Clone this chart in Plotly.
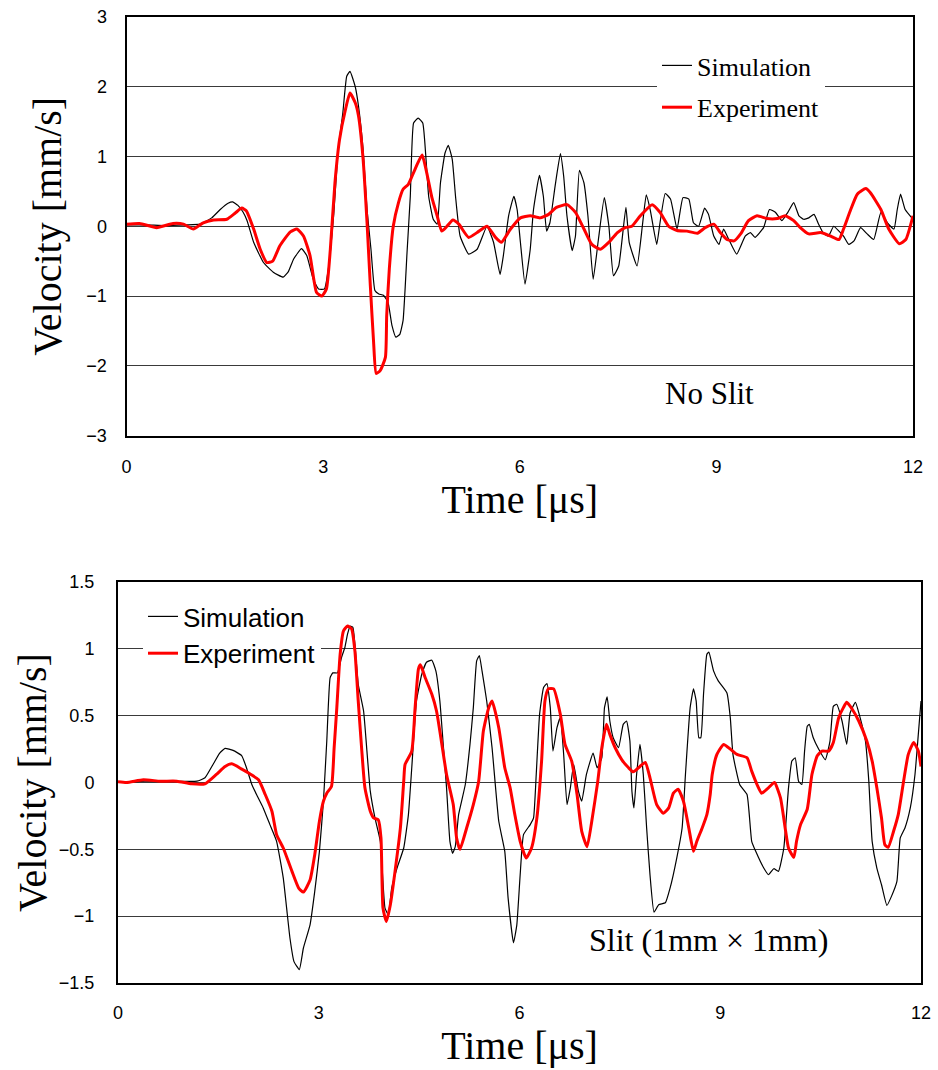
import plotly.graph_objects as go

# ---------------- Top panel: No Slit ----------------
top_sim_t = [0.0, 0.3, 0.6, 0.9, 1.12, 1.30, 1.43, 1.55, 1.62, 1.70, 1.78, 1.84, 1.94, 2.09, 2.24, 2.39, 2.47,
             2.55, 2.67, 2.75, 2.85, 2.93, 3.02, 3.08, 3.16, 3.23, 3.30, 3.36, 3.41, 3.49, 3.54, 3.61, 3.67,
             3.73, 3.79, 3.85, 3.92, 3.99, 4.05, 4.11, 4.17, 4.22, 4.28, 4.33, 4.38, 4.45, 4.52, 4.57, 4.61,
             4.68, 4.74, 4.79, 4.86, 4.91, 4.97, 5.02, 5.09, 5.22, 5.35, 5.5, 5.6, 5.70, 5.75, 5.83, 5.91,
             5.96, 6.01, 6.08, 6.16, 6.21, 6.30, 6.36, 6.41, 6.46, 6.54, 6.62, 6.67, 6.72, 6.80, 6.85, 6.91,
             6.98, 7.04, 7.12, 7.20, 7.29, 7.36, 7.43, 7.51, 7.62, 7.67, 7.79, 7.87, 7.93, 7.99, 8.09, 8.14,
             8.22, 8.30, 8.40, 8.49, 8.58, 8.65, 8.73, 8.82, 8.88, 8.96, 9.04, 9.11, 9.19, 9.31, 9.44, 9.52,
             9.59, 9.72, 9.81, 9.90, 10.0, 10.09, 10.18, 10.26, 10.33, 10.41, 10.49, 10.56, 10.64, 10.71,
             10.79, 10.87, 10.94, 11.02, 11.10, 11.20, 11.30, 11.40, 11.51, 11.61, 11.71, 11.76, 11.81,
             11.88, 12.0]
top_sim_v = [0.02, 0.02, 0.01, 0.02, 0.03, 0.12, 0.24, 0.33, 0.35, 0.30, 0.2, 0.08, -0.23, -0.52, -0.66, -0.73,
             -0.65, -0.47, -0.32, -0.42, -0.76, -0.9, -0.9, -0.61, 0.15, 1.1, 1.62, 2.15, 2.22, 2.0, 1.72, 1.1,
             0.24, -0.33, -0.92, -0.97, -0.99, -1.09, -1.42, -1.59, -1.55, -1.35, -0.38, 0.43, 1.48, 1.55,
             1.48, 0.96, 0.43, 0.1, 0.03, 0.62, 1.05, 1.16, 0.96, 0.43, -0.14, -0.4, -0.33, 0.0, -0.23, -0.69,
             -0.42, 0.15, 0.43, 0.24, -0.23, -0.83, -0.33, 0.24, 0.73, 0.43, -0.07, 0.05, 0.58, 1.04, 0.72,
             0.15, -0.35, -0.14, 0.8, 0.62, 0.15, -0.76, -0.19, 0.41, 0.0, -0.71, -0.57, 0.27, -0.23, -0.57,
             0.0, 0.45, 0.24, -0.26, 0.05, 0.47, 0.39, -0.04, 0.41, 0.39, 0.05, 0.0, 0.26, 0.17, -0.14, -0.26,
             -0.04, -0.19, -0.4, -0.14, -0.09, -0.16, -0.02, 0.24, 0.2, 0.08, 0.2, 0.34, 0.15, 0.1, 0.12,
             0.17, 0.03, -0.11, -0.14, 0.0, -0.07, -0.14, -0.26, -0.21, -0.02, -0.11, -0.19, 0.2, 0.05,
             -0.04, 0.24, 0.46, 0.24, 0.1]

top_exp_t = [0.0, 0.2, 0.46, 0.71, 0.87, 1.02, 1.17, 1.33, 1.53, 1.66, 1.76, 1.83, 1.94, 2.04, 2.14, 2.23, 2.34,
             2.5, 2.6, 2.7, 2.8, 2.9, 2.98, 3.05, 3.11, 3.18, 3.25, 3.34, 3.41, 3.49, 3.54, 3.61, 3.67, 3.72,
             3.77, 3.81, 3.87, 3.95, 3.97, 4.01, 4.07, 4.15, 4.22, 4.30, 4.38, 4.51, 4.58, 4.66, 4.74, 4.81,
             4.89, 4.98, 5.07, 5.22, 5.35, 5.5, 5.63, 5.72, 5.86, 6.01, 6.16, 6.31, 6.44, 6.56, 6.72, 6.85,
             6.98, 7.1, 7.23, 7.36, 7.49, 7.61, 7.71, 7.84, 8.02, 8.14, 8.27, 8.40, 8.55, 8.71, 8.83, 8.96,
             9.06, 9.16, 9.27, 9.37, 9.49, 9.62, 9.77, 9.93, 10.05, 10.18, 10.28, 10.41, 10.59, 10.74, 10.87,
             10.94, 11.05, 11.15, 11.28, 11.35, 11.51, 11.63, 11.79, 11.89, 12.0]
top_exp_v = [0.03, 0.04, -0.02, 0.04, 0.03, -0.04, 0.05, 0.09, 0.1, 0.19, 0.26, 0.22, -0.04, -0.33, -0.52, -0.5,
             -0.28, -0.08, -0.04, -0.14, -0.42, -0.95, -1.0, -0.9, -0.33, 0.62, 1.24, 1.67, 1.91, 1.77, 1.58,
             0.96, 0.05, -0.85, -1.66, -2.11, -2.07, -1.88, -1.28, -0.61, 0.0, 0.34, 0.53, 0.6, 0.77, 1.02,
             0.77, 0.41, 0.15, -0.07, 0.0, 0.09, 0.03, -0.16, -0.09, 0.0, -0.16, -0.23, -0.04, 0.12, 0.15,
             0.12, 0.17, 0.27, 0.31, 0.2, -0.04, -0.26, -0.33, -0.23, -0.09, -0.02, 0.0, 0.15, 0.31, 0.2, 0.0,
             -0.06, -0.07, -0.1, -0.02, 0.03, -0.09, -0.19, -0.21, -0.11, 0.08, 0.15, 0.11, 0.11, 0.15, 0.08,
             -0.02, -0.11, -0.09, -0.14, -0.19, -0.04, 0.24, 0.46, 0.54, 0.48, 0.24, -0.04, -0.25, -0.19, 0.15]

# ---------------- Bottom panel: Slit (1mm x 1mm) ----------------
bot_sim_t = [0.0, 0.4, 0.8, 1.18, 1.30, 1.42, 1.52, 1.60, 1.72, 1.85, 1.92, 2.0, 2.07, 2.17, 2.27, 2.37, 2.47,
             2.52, 2.57, 2.63, 2.71, 2.77, 2.87, 2.94, 3.01, 3.07, 3.12, 3.17, 3.21, 3.28, 3.34, 3.39, 3.43,
             3.47, 3.51, 3.54, 3.59, 3.67, 3.72, 3.77, 3.84, 3.92, 3.99, 4.04, 4.09, 4.17, 4.27, 4.34, 4.39,
             4.46, 4.54, 4.61, 4.69, 4.75, 4.81, 4.86, 4.91, 4.96, 5.0, 5.04, 5.09, 5.19, 5.26, 5.31, 5.36,
             5.40, 5.44, 5.51, 5.59, 5.69, 5.78, 5.83, 5.91, 5.96, 6.01, 6.06, 6.16, 6.21, 6.25, 6.30, 6.36,
             6.41, 6.46, 6.50, 6.56, 6.61, 6.66, 6.71, 6.76, 6.81, 6.88, 6.93, 7.0, 7.10, 7.16, 7.23, 7.27,
             7.31, 7.35, 7.40, 7.48, 7.55, 7.60, 7.65, 7.68, 7.71, 7.75, 7.80, 7.85, 7.90, 7.95, 8.01, 8.08,
             8.18, 8.25, 8.35, 8.43, 8.48, 8.55, 8.60, 8.64, 8.68, 8.71, 8.75, 8.80, 8.83, 8.90, 8.97, 9.10,
             9.15, 9.19, 9.29, 9.40, 9.47, 9.53, 9.65, 9.72, 9.80, 9.87, 9.95, 10.02, 10.07, 10.12, 10.17,
             10.22, 10.26, 10.30, 10.33, 10.39, 10.47, 10.57, 10.64, 10.69, 10.74, 10.82, 10.89, 10.94,
             11.02, 11.09, 11.17, 11.22, 11.27, 11.34, 11.41, 11.49, 11.56, 11.64, 11.69, 11.76, 11.84,
             11.91, 11.96, 12.0]
bot_sim_v = [0.0, 0.01, 0.01, 0.01, 0.035, 0.135, 0.22, 0.255, 0.24, 0.2, 0.11, -0.015, -0.09, -0.19, -0.315,
             -0.44, -0.715, -0.94, -1.165, -1.34, -1.4, -1.24, -1.065, -0.815, -0.515, -0.14, 0.31, 0.785,
             0.82, 0.82, 0.935, 1.01, 1.11, 1.17, 1.16, 1.035, 0.735, 0.535, 0.235, -0.065, -0.265, -0.44,
             -0.94, -0.99, -0.79, -0.64, -0.49, -0.24, 0.11, 0.61, 0.81, 0.9, 0.915, 0.835, 0.61, 0.285,
             -0.04, -0.44, -0.53, -0.48, -0.24, -0.015, 0.285, 0.56, 0.91, 0.95, 0.835, 0.61, 0.26, -0.29,
             -0.515, -0.865, -1.2, -1.065, -0.69, -0.39, -0.315, -0.265, 0.06, 0.51, 0.71, 0.74, 0.56, 0.235,
             0.41, 0.485, 0.21, -0.165, -0.04, 0.135, -0.065, -0.14, 0.06, 0.22, 0.11, 0.185, 0.56, 0.64,
             0.46, 0.335, 0.26, 0.435, 0.46, 0.31, -0.065, -0.19, 0.06, 0.285, 0.06, -0.34, -0.69, -0.97,
             -0.915, -0.9, -0.79, -0.565, -0.34, 0.06, 0.56, 0.70, 0.61, 0.335, 0.335, 0.66, 0.96, 0.975,
             0.835, 0.76, 0.67, 0.485, 0.21, -0.015, -0.09, -0.44, -0.515, -0.64, -0.69, -0.645, -0.665,
             -0.49, -0.04, 0.16, 0.185, 0.01, -0.015, 0.235, 0.42, 0.435, 0.335, 0.25, 0.17, 0.31, 0.57,
             0.585, 0.46, 0.285, 0.52, 0.6, 0.485, 0.31, 0.01, -0.44, -0.64, -0.765, -0.92, -0.85, -0.74,
             -0.415, -0.34, -0.19, 0.06, 0.36, 0.61]

bot_exp_t = [0.0, 0.13, 0.38, 0.63, 0.88, 1.1, 1.30, 1.47, 1.60, 1.70, 1.85, 1.97, 2.10, 2.20, 2.30, 2.37, 2.47,
             2.60, 2.70, 2.77, 2.87, 2.94, 3.01, 3.07, 3.12, 3.19, 3.23, 3.27, 3.32, 3.37, 3.43, 3.49, 3.54,
             3.59, 3.64, 3.69, 3.77, 3.82, 3.89, 3.93, 3.96, 4.01, 4.07, 4.14, 4.22, 4.27, 4.29, 4.39, 4.44,
             4.49, 4.52, 4.59, 4.69, 4.76, 4.84, 4.91, 5.01, 5.06, 5.11, 5.21, 5.31, 5.39, 5.46, 5.54, 5.59,
             5.69, 5.78, 5.86, 5.93, 6.01, 6.10, 6.18, 6.26, 6.33, 6.38, 6.43, 6.51, 6.61, 6.68, 6.78, 6.86,
             6.93, 7.01, 7.08, 7.17, 7.23, 7.30, 7.35, 7.43, 7.53, 7.63, 7.70, 7.80, 7.88, 7.95, 8.05, 8.15,
             8.23, 8.30, 8.37, 8.45, 8.53, 8.60, 8.65, 8.73, 8.80, 8.85, 8.88, 8.95, 9.05, 9.15, 9.25, 9.40,
             9.47, 9.55, 9.62, 9.72, 9.81, 9.90, 9.97, 10.02, 10.10, 10.14, 10.20, 10.30, 10.37, 10.45, 10.52,
             10.62, 10.69, 10.77, 10.84, 10.89, 10.97, 11.07, 11.19, 11.27, 11.34, 11.41, 11.46, 11.51, 11.59,
             11.66, 11.74, 11.81, 11.89, 11.96, 12.0]
bot_exp_v = [0.005, 0.0, 0.02, 0.01, 0.01, -0.01, -0.01, 0.06, 0.12, 0.14, 0.1, 0.065, 0.02, -0.09, -0.215,
             -0.39, -0.49, -0.665, -0.79, -0.82, -0.73, -0.54, -0.29, -0.14, -0.08, -0.03, 0.26, 0.56, 0.96,
             1.135, 1.17, 1.15, 0.985, 0.61, 0.26, -0.04, -0.215, -0.265, -0.28, -0.415, -0.94, -1.04, -0.915,
             -0.665, -0.34, 0.01, 0.135, 0.235, 0.56, 0.85, 0.88, 0.785, 0.66, 0.535, 0.285, 0.06, -0.165,
             -0.415, -0.5, -0.34, -0.165, 0.01, 0.385, 0.56, 0.61, 0.41, 0.11, -0.04, -0.24, -0.44, -0.565,
             -0.49, -0.265, 0.16, 0.61, 0.70, 0.70, 0.51, 0.285, 0.16, -0.09, -0.365, -0.48, -0.29, 0.01,
             0.26, 0.435, 0.36, 0.26, 0.17, 0.11, 0.08, 0.12, 0.15, 0.035, -0.165, -0.23, -0.19, -0.08, -0.05,
             -0.14, -0.34, -0.515, -0.44, -0.34, -0.24, -0.09, 0.06, 0.21, 0.285, 0.25, 0.21, 0.185, 0.085,
             -0.015, -0.08, -0.04, 0.0, -0.115, -0.34, -0.49, -0.56, -0.44, -0.315, -0.2, 0.06, 0.2, 0.235,
             0.235, 0.3, 0.485, 0.56, 0.6, 0.55, 0.46, 0.31, 0.16, -0.04, -0.265, -0.465, -0.485, -0.365,
             -0.24, 0.01, 0.21, 0.3, 0.235, 0.12]

x_ticks = [0, 3, 6, 9, 12]
top_y_ticks = [-3, -2, -1, 0, 1, 2, 3]
bot_y_ticks = [-1.5, -1, -0.5, 0, 0.5, 1, 1.5]
bot_y_ticktext = ["\u22121.5", "\u22121", "\u22120.5", "0", "0.5", "1", "1.5"]

W, H = 938, 1070
SERIF = "Liberation Serif, Times New Roman, serif"
SANS = "Liberation Sans, Arial, sans-serif"

fig = go.Figure()
fig.add_trace(go.Scatter(x=top_sim_t, y=top_sim_v, name="Simulation", mode="lines", legendgroup="s1",
                         line=dict(color="black", width=1.2, shape="spline", smoothing=0.4),
                         xaxis="x", yaxis="y", legend="legend"))
fig.add_trace(go.Scatter(x=top_exp_t, y=top_exp_v, name="Experiment", mode="lines", legendgroup="e1",
                         line=dict(color="#ff0000", width=3, shape="spline", smoothing=0.5),
                         xaxis="x", yaxis="y", legend="legend"))
fig.add_trace(go.Scatter(x=bot_sim_t, y=bot_sim_v, name="Simulation", mode="lines", legendgroup="s2",
                         line=dict(color="black", width=1.2, shape="spline", smoothing=0.4),
                         xaxis="x2", yaxis="y2", legend="legend2"))
fig.add_trace(go.Scatter(x=bot_exp_t, y=bot_exp_v, name="Experiment", mode="lines", legendgroup="e2",
                         line=dict(color="#ff0000", width=3, shape="spline", smoothing=0.5),
                         xaxis="x2", yaxis="y2", legend="legend2"))

def px_x(p):
    return p / W

def px_y(p):
    return 1 - p / H

common_x = dict(range=[0, 12], tickvals=x_ticks, showgrid=False, zeroline=False, showline=True,
                mirror=True, linecolor="black", linewidth=2, ticks="", automargin=False,
                tickfont=dict(family=SANS, size=18, color="black"))
common_y = dict(showgrid=True, gridcolor="#3a3a3a", gridwidth=1, zeroline=True, zerolinecolor="#3a3a3a",
                zerolinewidth=1, showline=True, mirror=True, linecolor="black", linewidth=2, ticks="",
                automargin=False, tickfont=dict(family=SANS, size=18, color="black"))

fig.update_layout(
    width=W, height=H, margin=dict(l=0, r=0, t=0, b=0),
    paper_bgcolor="white", plot_bgcolor="white", showlegend=True,
    xaxis=dict(common_x, domain=[px_x(126.5), px_x(913)], anchor="y", ticklabelstandoff=14,
               title=dict(text="Time [\u03bcs]", font=dict(family=SERIF, size=40, color="black"), standoff=0)),
    yaxis=dict(common_y, domain=[px_y(435.5), px_y(17)], anchor="x", range=[-3, 3], tickvals=top_y_ticks,
               ticklabelstandoff=14,
               title=dict(text="Velocity [mm/s]", font=dict(family=SERIF, size=40, color="black"), standoff=12)),
    xaxis2=dict(common_x, domain=[px_x(118), px_x(921)], anchor="y2", ticklabelstandoff=12,
                title=dict(text="Time [\u03bcs]", font=dict(family=SERIF, size=40, color="black"), standoff=6)),
    yaxis2=dict(common_y, domain=[px_y(983), px_y(582)], anchor="x2", range=[-1.5, 1.5],
                tickvals=bot_y_ticks, ticktext=bot_y_ticktext, ticklabelstandoff=18,
                title=dict(text="Velocity [mm/s]", font=dict(family=SERIF, size=40, color="black"), standoff=0)),
    legend=dict(x=px_x(657), y=px_y(42), xanchor="left", yanchor="top", bgcolor="white", borderwidth=0,
                font=dict(family=SERIF, size=26, color="black"), traceorder="grouped", tracegroupgap=5,
                itemwidth=30),
    legend2=dict(x=px_x(143), y=px_y(593), xanchor="left", yanchor="top", bgcolor="white", borderwidth=0,
                 font=dict(family=SANS, size=26, color="black"), traceorder="grouped", tracegroupgap=0,
                 itemwidth=30),
    annotations=[
        dict(text="No Slit", x=8.9, y=-2.4, xref="x", yref="y", showarrow=False,
             font=dict(family=SERIF, size=31, color="black")),
        dict(text="Slit (1mm \u00d7 1mm)", x=8.82, y=-1.18, xref="x2", yref="y2", showarrow=False,
             font=dict(family=SERIF, size=32, color="black")),
    ],
)

fig.write_html("out.html", config={"displayModeBar": False},
               post_script="document.body.style.margin='0';")
